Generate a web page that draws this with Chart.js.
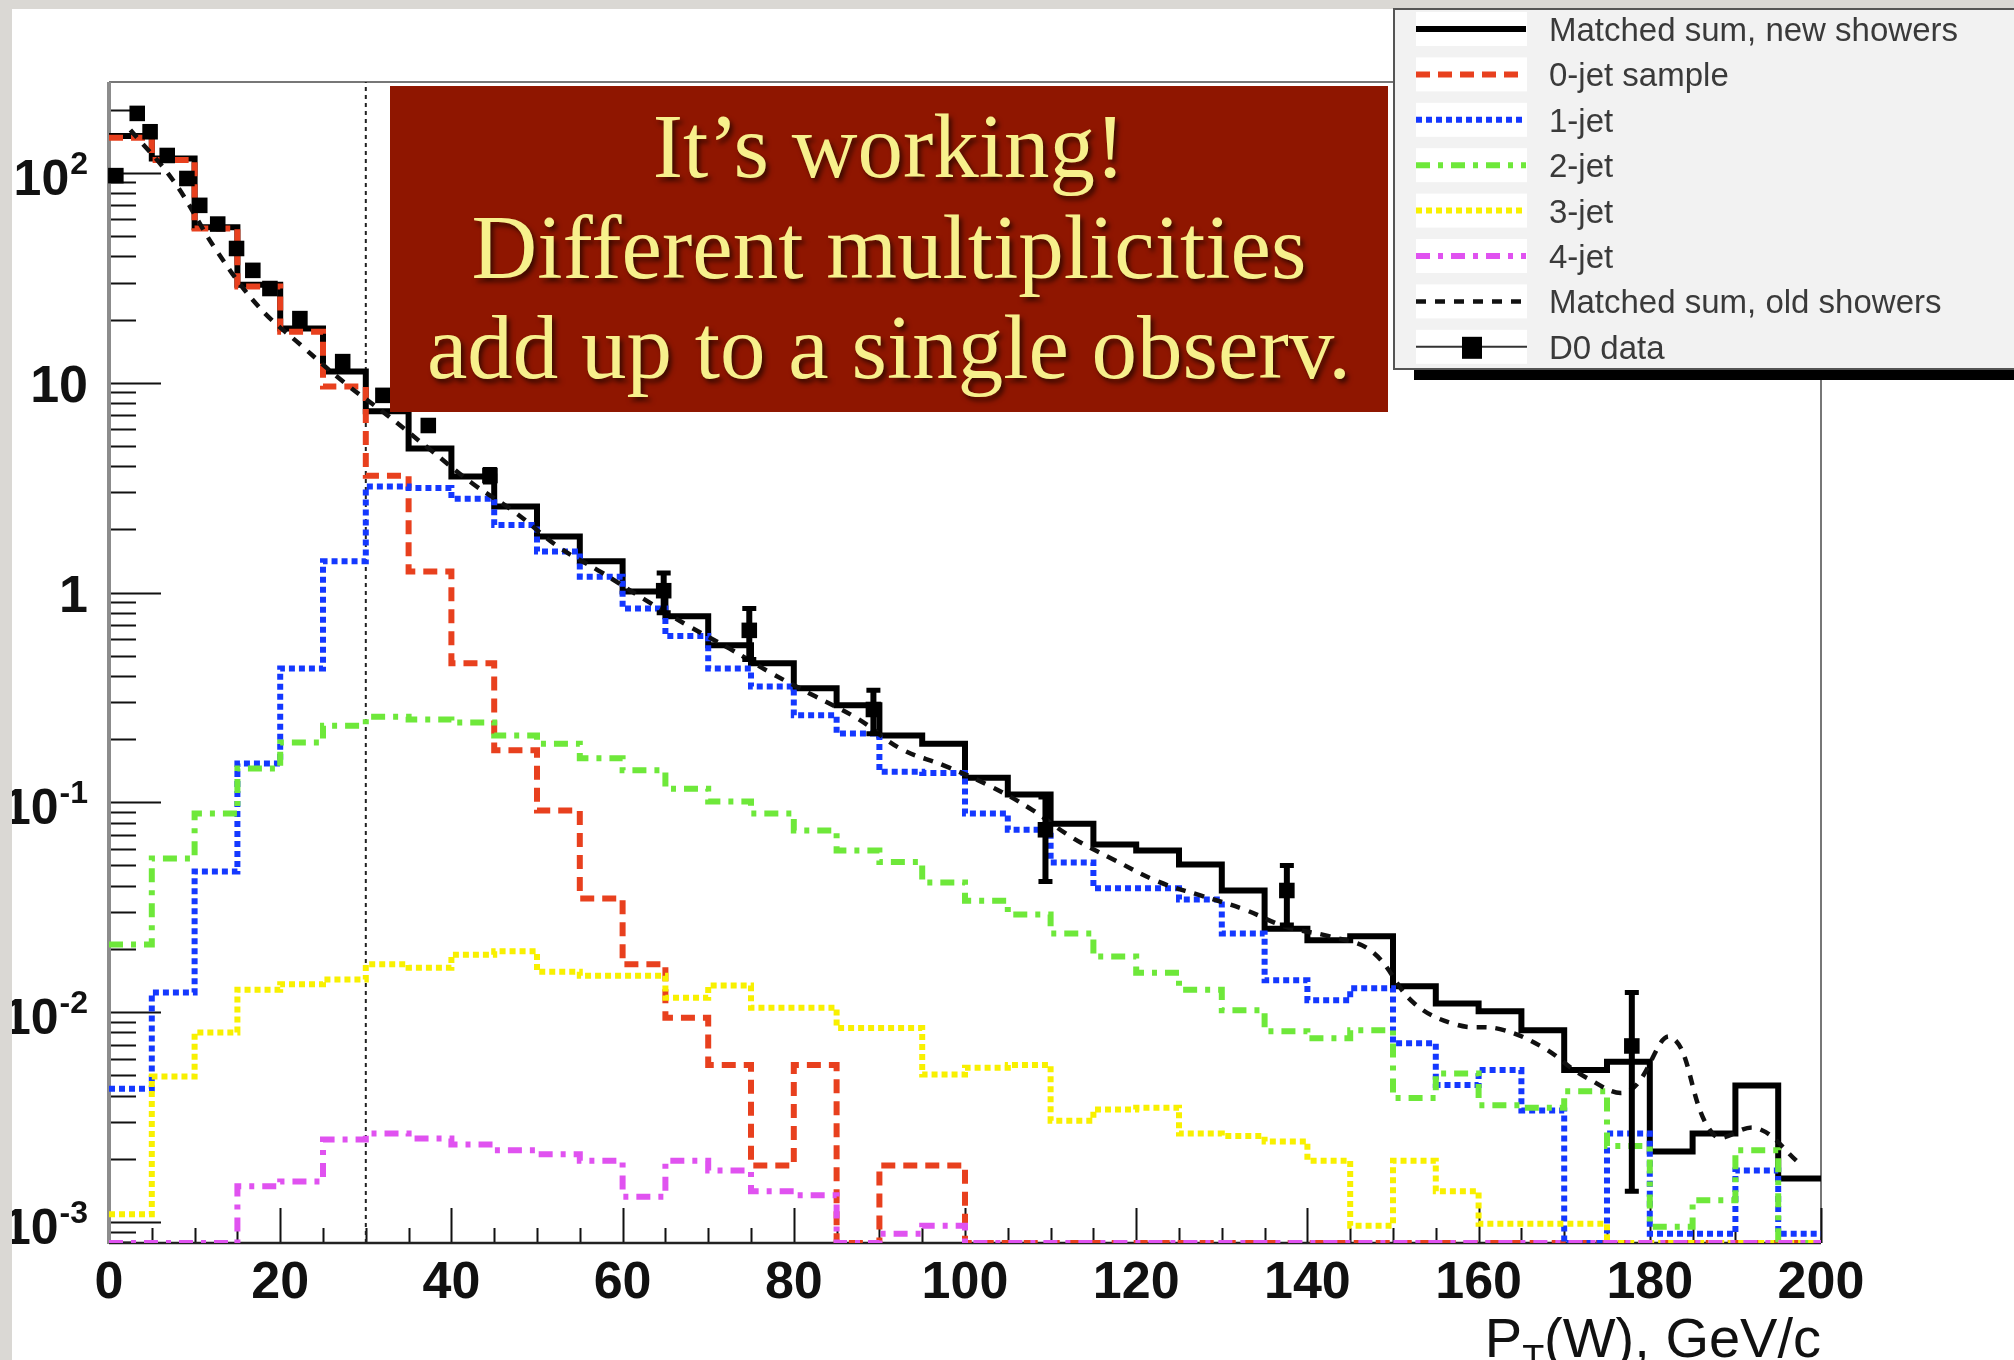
<!DOCTYPE html>
<html>
<head>
<meta charset="utf-8">
<script src="https://cdn.jsdelivr.net/npm/chart.js@4.4.1/dist/chart.umd.min.js"></script>
<style>
  html, body { margin: 0; padding: 0; background: #dad8d4; }
  #wrap { width: 2014px; height: 1360px; position: relative; }
</style>
</head>
<body>
<div id="wrap"><canvas id="ptChart"></canvas></div>
<script>
// bin edges of the MC histograms, GeV/c
var binEdges = [0, 5, 10, 15, 20, 25, 30, 35, 40, 45, 50, 55, 60, 65, 70, 75, 80, 85, 90, 95, 100,
  105, 110, 115, 120, 125, 130, 135, 140, 145, 150, 155, 160, 165, 170, 175, 180, 185, 190, 195, 200];

// bin contents (0 = empty bin)
var sumNew = [150, 117, 55, 29.3, 18.1, 11.3, 7.3, 4.86, 3.57, 2.57, 1.85, 1.41, 1.01, 0.77, 0.56, 0.46,
  0.35, 0.29, 0.208, 0.19, 0.131, 0.109, 0.079, 0.063, 0.059, 0.0505, 0.038, 0.025, 0.022, 0.023,
  0.0133, 0.011, 0.0101, 0.0082, 0.0053, 0.0058, 0.00217, 0.00264, 0.00447, 0.00161];
var jet0 = [147, 115, 54.3, 28.7, 17.5, 9.6, 3.6, 1.26, 0.46, 0.177, 0.0914, 0.0348, 0.0169, 0.0094,
  0.0056, 0.00186, 0.0056, 0, 0.00186, 0.00186, 0, 0, 0, 0, 0, 0, 0, 0, 0, 0, 0, 0, 0, 0, 0, 0, 0, 0, 0, 0];
var jet1 = [0.00432, 0.0124, 0.0468, 0.153, 0.434, 1.41, 3.2, 3.15, 2.8, 2.1, 1.57, 1.19, 0.84, 0.62,
  0.434, 0.356, 0.26, 0.213, 0.14, 0.138, 0.0885, 0.074, 0.0516, 0.0389, 0.0389, 0.0344, 0.0237,
  0.0142, 0.0114, 0.013, 0.0071, 0.0045, 0.0053, 0.0034, 0, 0.00264, 0.00088, 0.00088, 0.00176, 0.00088];
var jet2 = [0.021, 0.054, 0.0885, 0.145, 0.193, 0.232, 0.256, 0.248, 0.24, 0.208, 0.19, 0.162, 0.142,
  0.116, 0.101, 0.0885, 0.0734, 0.059, 0.052, 0.0415, 0.034, 0.0292, 0.0237, 0.0184, 0.0154, 0.0128,
  0.0102, 0.0081, 0.0075, 0.0082, 0.0039, 0.0051, 0.0036, 0.0035, 0.0042, 0.0023, 0.00095, 0.00127, 0.0022, 0];
var jet3 = [0.00109, 0.00493, 0.008, 0.0128, 0.0136, 0.0143, 0.0169, 0.0163, 0.0188, 0.0195, 0.0156,
  0.0149, 0.0149, 0.0117, 0.0134, 0.0105, 0.0105, 0.0084, 0.0084, 0.00504, 0.00544, 0.0056, 0.00304,
  0.00344, 0.0035, 0.00264, 0.00257, 0.00242, 0.00196, 0.00096, 0.00196, 0.0014, 0.00098, 0.00098,
  0.00098, 0, 0, 0, 0, 0];
var jet4 = [0, 0, 0, 0.00148, 0.00156, 0.00247, 0.00264, 0.0025, 0.00234, 0.0022, 0.0021, 0.00196,
  0.00132, 0.00196, 0.00176, 0.0014, 0.00134, 0, 0.00088, 0.00096, 0, 0, 0, 0, 0, 0, 0, 0, 0, 0,
  0, 0, 0, 0, 0, 0, 0, 0, 0, 0];
// old showers, smooth curve through bin centres
var sumOld = [160, 92, 43, 23, 15, 10, 7, 4.8, 3.3, 2.4, 1.65, 1.25, 0.93, 0.7, 0.54, 0.41, 0.32, 0.25,
  0.18, 0.15, 0.122, 0.094, 0.068, 0.053, 0.042, 0.036, 0.031, 0.0255, 0.023, 0.0195, 0.011, 0.0087,
  0.0083, 0.0068, 0.0049, 0.0042, 0.0076, 0.0026, 0.0028, 0.0019];

// D0 data
var dataX = [0.8, 3.3, 4.8, 6.8, 9.1, 10.6, 12.7, 14.9, 16.8, 18.8, 22.3, 27.3, 32.0, 37.3, 44.5,
  64.8, 74.8, 89.3, 109.4, 137.6, 177.9];
var dataY = [97, 192, 157, 121, 94, 70, 57, 43.6, 34.3, 28.1, 20.2, 12.6, 8.7, 6.25, 3.61,
  1.02, 0.66, 0.277, 0.074, 0.038, 0.0069];
var dataErr = [3, 6, 5, 4, 3, 2.5, 2, 1.6, 1.3, 1.1, 0.7, 0.5, 0.4, 0.3, 0.25,
  0.22, 0.18, 0.065, 0.032, 0.012, 0.0055];

var xTicks = [0, 20, 40, 60, 80, 100, 120, 140, 160, 180, 200];
var yTickValues = [0.001, 0.01, 0.1, 1, 10, 100];
var yTickBase = ['10', '10', '10', '1', '10', '10'];
var yTickExp = ['-3', '-2', '-1', '', '', '2'];

var legendLabels = ['Matched sum, new showers', '0-jet sample', '1-jet', '2-jet', '3-jet', '4-jet',
  'Matched sum, old showers', 'D0 data'];
var boxLines = ['It\u2019s working!', 'Different multiplicities', 'add up to a single observ.'];

var X_MIN = 0, X_MAX = 200, Y_MIN = 0.000794, Y_MAX = 271, CUT_PT = 30;
var LABEL_FONT = '"Liberation Sans", Arial, sans-serif';

function histPoints(vals) {
  var pts = [];
  for (var i = 0; i < vals.length; i++) {
    pts.push({ x: binEdges[i], y: vals[i] > 0 ? vals[i] : Y_MIN });
  }
  pts.push({ x: binEdges[vals.length], y: pts[pts.length - 1].y });
  return pts;
}
function curvePoints(vals) {
  return vals.map(function (v, i) { return { x: (binEdges[i] + binEdges[i + 1]) / 2, y: v }; });
}
function histSet(label, vals, color, dash, order, width) {
  return {
    label: label, data: histPoints(vals), borderColor: color, borderWidth: width,
    borderDash: dash, stepped: 'before', pointRadius: 0, fill: false, order: order,
    borderCapStyle: 'butt', borderJoinStyle: 'miter'
  };
}

var dsNew = histSet(legendLabels[0], sumNew, '#000000', [], 7, 6);
var ds0 = histSet(legendLabels[1], jet0, '#e8401e', [14, 8], 6, 6);
var ds1 = histSet(legendLabels[2], jet1, '#1438ff', [6, 4], 5, 6);
var ds2 = histSet(legendLabels[3], jet2, '#6ee83a', [14, 8, 5, 8], 4, 6);
var ds3 = histSet(legendLabels[4], jet3, '#f8f000', [6, 4], 3, 6);
var ds4 = histSet(legendLabels[5], jet4, '#e052f0', [14, 8, 5, 8], 2, 6);
var dsOld = {
  label: legendLabels[6], data: curvePoints(sumOld), borderColor: '#111', borderWidth: 4.5,
  borderDash: [10, 9], tension: 0.4, pointRadius: 0, fill: false, order: 1
};
var dsData = {
  label: legendLabels[7], isData: true,
  data: dataX.map(function (x, i) { return { x: x, y: dataY[i] }; }),
  showLine: false, pointStyle: 'rect', pointRadius: 11, pointBackgroundColor: '#000',
  pointBorderWidth: 0, order: 0, clip: 12
};
var dsCut = {
  label: 'cut', data: [{ x: CUT_PT, y: Y_MIN }, { x: CUT_PT, y: Y_MAX }],
  borderColor: '#222', borderWidth: 2, borderDash: [4, 4], pointRadius: 0, order: 8
};
var legendSets = [dsNew, ds0, ds1, ds2, ds3, ds4, dsOld, dsData];

var rootStyle = {
  id: 'rootStyle',
  beforeDraw: function (chart) {
    var ctx = chart.ctx;
    ctx.save();
    ctx.fillStyle = '#ffffff';
    ctx.fillRect(0, 0, chart.width, chart.height);
    ctx.restore();
  },
  beforeDatasetsDraw: function (chart) {
    var ctx = chart.ctx, xs = chart.scales.x, ys = chart.scales.y, a = chart.chartArea;
    ctx.save();
    ctx.strokeStyle = '#777';
    ctx.lineWidth = 2;
    ctx.beginPath();
    ctx.moveTo(a.left, a.top); ctx.lineTo(a.right, a.top); ctx.lineTo(a.right, a.bottom);
    ctx.stroke();
    // ticks
    ctx.strokeStyle = '#111';
    ctx.lineWidth = 2;
    ctx.beginPath();
    for (var e = -4; e <= 2; e++) {
      for (var k = 1; k <= 9; k++) {
        var v = k * Math.pow(10, e);
        if (v < ys.min || v > ys.max) continue;
        var py = Math.round(ys.getPixelForValue(v)) + 0.5;
        ctx.moveTo(a.left, py); ctx.lineTo(a.left + (k === 1 ? 52 : 27), py);
      }
    }
    for (var t = X_MIN; t <= X_MAX; t += 5) {
      var px = Math.round(xs.getPixelForValue(t)) + 0.5;
      ctx.moveTo(px, a.bottom); ctx.lineTo(px, a.bottom - (t % 20 === 0 ? 35 : 15));
    }
    ctx.stroke();
    // axes
    ctx.strokeStyle = '#8c8c8c';
    ctx.lineWidth = 4;
    ctx.beginPath(); ctx.moveTo(a.left, a.top); ctx.lineTo(a.left, a.bottom + 1); ctx.stroke();
    ctx.strokeStyle = '#222';
    ctx.lineWidth = 2.5;
    ctx.beginPath(); ctx.moveTo(a.left, a.bottom); ctx.lineTo(a.right, a.bottom); ctx.stroke();
    ctx.restore();
  },
  beforeDatasetDraw: function (chart, args) {
    var ds = chart.data.datasets[args.index];
    if (!ds.isData) return;
    var ctx = chart.ctx, xs = chart.scales.x, ys = chart.scales.y;
    ctx.save();
    ctx.strokeStyle = '#000';
    for (var i = 0; i < dataX.length; i++) {
      var px = xs.getPixelForValue(dataX[i]);
      var hi = ys.getPixelForValue(dataY[i] + dataErr[i]);
      var lo = ys.getPixelForValue(dataY[i] - dataErr[i]);
      ctx.lineWidth = 6;
      ctx.beginPath(); ctx.moveTo(px, hi); ctx.lineTo(px, lo); ctx.stroke();
      ctx.lineWidth = 5;
      ctx.beginPath();
      ctx.moveTo(px - 7, hi); ctx.lineTo(px + 7, hi);
      ctx.moveTo(px - 7, lo); ctx.lineTo(px + 7, lo);
      ctx.stroke();
    }
    ctx.restore();
  },
  afterDraw: function (chart) {
    var ctx = chart.ctx, xs = chart.scales.x, ys = chart.scales.y, a = chart.chartArea;
    ctx.save();
    // tick labels
    ctx.fillStyle = '#111';
    ctx.font = 'bold 52px ' + LABEL_FONT;
    ctx.textAlign = 'center';
    ctx.textBaseline = 'alphabetic';
    xTicks.forEach(function (t) {
      ctx.fillText(String(t), xs.getPixelForValue(t), a.bottom + 55);
    });
    ctx.textAlign = 'right';
    for (var i = 0; i < yTickValues.length; i++) {
      var py = ys.getPixelForValue(yTickValues[i]);
      var right = 88;
      if (yTickExp[i]) {
        ctx.font = 'bold 32px ' + LABEL_FONT;
        ctx.fillText(yTickExp[i], right, py + 1);
        right -= ctx.measureText(yTickExp[i]).width + 1;
        ctx.font = 'bold 50px ' + LABEL_FONT;
        ctx.fillText(yTickBase[i], right, py + 22);
      } else {
        ctx.font = 'bold 52px ' + LABEL_FONT;
        ctx.fillText(yTickBase[i], right, py + 19);
      }
    }
    // axis title, P_T(W), GeV/c
    var tail = '(W), GeV/c';
    ctx.font = '56px ' + LABEL_FONT;
    var wTail = ctx.measureText(tail).width;
    var wP = ctx.measureText('P').width;
    ctx.font = '36px ' + LABEL_FONT;
    var wT = ctx.measureText('T').width;
    var x0 = a.right - wTail - wT - wP;
    ctx.textAlign = 'left';
    ctx.font = '56px ' + LABEL_FONT;
    ctx.fillText('P', x0, 1357);
    ctx.fillText(tail, x0 + wP + wT, 1357);
    ctx.font = '36px ' + LABEL_FONT;
    ctx.fillText('T', x0 + wP, 1371);

    // slide background showing at the left and top edges
    ctx.fillStyle = '#dad8d4';
    ctx.fillRect(0, 0, 12, chart.height);
    ctx.fillRect(0, 0, chart.width, 9);

    // text box
    ctx.fillStyle = '#8f1600';
    ctx.fillRect(390, 86, 998, 326);
    ctx.font = '91px "Liberation Serif", "Times New Roman", serif';
    ctx.textAlign = 'center';
    ctx.fillStyle = '#f7f08c';
    ctx.shadowColor = 'rgba(0,0,0,0.6)';
    ctx.shadowOffsetX = 3;
    ctx.shadowOffsetY = 4;
    ctx.shadowBlur = 5;
    var baselines = [177, 278, 378];
    boxLines.forEach(function (s, j) { ctx.fillText(s, 889, baselines[j]); });
    ctx.shadowColor = 'transparent';

    // legend
    var lx = 1393, ly = 8;
    ctx.fillStyle = '#000';
    ctx.fillRect(lx + 21, 368, chart.width - lx - 21, 12);
    ctx.fillStyle = '#f2f2f2';
    ctx.fillRect(lx, ly, chart.width - lx, 361);
    ctx.strokeStyle = '#555';
    ctx.lineWidth = 2;
    ctx.beginPath();
    ctx.moveTo(chart.width, ly + 1); ctx.lineTo(lx + 1, ly + 1); ctx.lineTo(lx + 1, 369);
    ctx.lineTo(chart.width, 369);
    ctx.stroke();
    ctx.font = '33px ' + LABEL_FONT;
    ctx.textAlign = 'left';
    legendSets.forEach(function (ds, j) {
      var cy = 29 + j * 45.4;
      ctx.fillStyle = '#ffffff';
      ctx.fillRect(1416, cy - 17, 111, 34);
      if (ds.isData) {
        ctx.strokeStyle = '#333';
        ctx.lineWidth = 2;
        ctx.setLineDash([]);
        ctx.beginPath(); ctx.moveTo(1416, cy); ctx.lineTo(1527, cy); ctx.stroke();
        ctx.fillStyle = '#000';
        ctx.fillRect(1462, cy - 10, 20, 22);
      } else {
        ctx.strokeStyle = ds.borderColor;
        ctx.lineWidth = ds.borderWidth;
        ctx.setLineDash(ds.borderDash || []);
        ctx.beginPath(); ctx.moveTo(1416, cy); ctx.lineTo(1526, cy); ctx.stroke();
        ctx.setLineDash([]);
      }
      ctx.fillStyle = '#3a3a3a';
      ctx.fillText(legendLabels[j], 1549, cy + 12);
    });
    ctx.restore();
  }
};

new Chart(document.getElementById('ptChart'), {
  type: 'line',
  data: { datasets: [dsNew, ds0, ds1, ds2, ds3, ds4, dsOld, dsData, dsCut] },
  options: {
    responsive: true,
    maintainAspectRatio: false,
    animation: false,
    layout: { padding: { left: 109, right: 193, top: 82, bottom: 117 } },
    plugins: { legend: { display: false }, tooltip: { enabled: false } },
    scales: {
      x: { type: 'linear', min: X_MIN, max: X_MAX, display: false },
      y: { type: 'logarithmic', min: Y_MIN, max: Y_MAX, display: false }
    }
  },
  plugins: [rootStyle]
});
</script>
</body>
</html>
